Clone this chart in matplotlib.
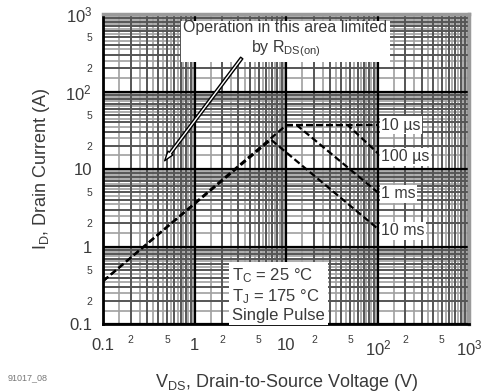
import numpy as np
import matplotlib
matplotlib.use('Agg')
import matplotlib.pyplot as plt
from matplotlib.ticker import LogLocator, FixedLocator, FuncFormatter

plt.rcParams['font.family'] = ['Liberation Sans', 'DejaVu Sans']
plt.rcParams['mathtext.fontset'] = 'custom'
plt.rcParams['mathtext.rm'] = 'Liberation Sans'
plt.rcParams['mathtext.it'] = 'Liberation Sans'

# 曲线数据 (V_DS [V], I_D [A])
rds_v = [0.1, 10]
rds_i = [0.36, 37]
us10_v = [10, 100]
us10_i = [37, 37]
us100_v = [10, 47, 100]
us100_i = [37, 37, 16]
ms1_v = [10, 13, 100]
ms1_i = [37, 37, 5]
ms10_v = [0.1, 6.8, 100]
ms10_i = [0.36, 24, 1.7]

curve_labels = ['10 µs', '100 µs', '1 ms', '10 ms']
label_i = [37, 14.5, 4.8, 1.6]

major_ticks = [0.1, 1, 10, 100, 1000]
major_labels = ['0.1', '1', '10', '$10^2$', '$10^3$']

txt_color = '#3a3a3a'

fig = plt.figure(figsize=(4.82, 3.92), dpi=100)
ax = fig.add_axes([0.214, 0.173, 0.76, 0.791])
ax.set_xscale('log')
ax.set_yscale('log')
ax.set_xlim(0.1, 1000)
ax.set_ylim(0.1, 1000)

# 背景网格 (对数纸)
for d in [0.1, 1, 10, 100]:
    for s in [1.5, 2.5, 3.5, 4.5, 5.5, 6.5, 7.5, 8.5, 9.5]:
        ax.axvline(d * s, color='#a0a0a0', lw=1.2, zorder=0)
        ax.axhline(d * s, color='#a0a0a0', lw=1.2, zorder=0)
    for s in range(2, 10):
        ax.axvline(d * s, color='#555555', lw=1.4, zorder=0.5)
        ax.axhline(d * s, color='#555555', lw=1.4, zorder=0.5)
for d in major_ticks:
    ax.axvline(d, color='black', lw=1.6, zorder=1)
    ax.axhline(d, color='black', lw=1.6, zorder=1)

# 曲线
dash = (0, (3, 1.5))
for v, i in [(rds_v, rds_i), (us10_v, us10_i), (us100_v, us100_i),
             (ms1_v, ms1_i), (ms10_v, ms10_i)]:
    ax.plot(v, i, color='black', lw=1.6, linestyle=dash, zorder=3)

for lab, yi in zip(curve_labels, label_i):
    ax.text(108, yi, lab, fontsize=11.5, ha='left', va='center', color=txt_color,
            bbox=dict(facecolor='white', edgecolor='none', pad=1), zorder=4)

# 注释
ax.text(9.8, 470, 'Operation in this area limited\nby $R_{DS(on)}$', fontsize=11.5,
        ha='center', va='center', multialignment='center', color=txt_color,
        linespacing=1.3,
        bbox=dict(facecolor='white', edgecolor='none', pad=2), zorder=4)
arrow_tail = [3.4, 290]
arrow_head = [0.45, 12]
ax.annotate('', xy=arrow_head, xytext=arrow_tail,
            arrowprops=dict(arrowstyle='simple,head_width=0.45,head_length=0.7,tail_width=0.2',
                            fc='white', ec='black', lw=1.0), zorder=5)

ax.text(0.352, 0.005, '$T_C$ = 25 °C\n$T_J$ = 175 °C\nSingle Pulse', transform=ax.transAxes,
        fontsize=12, ha='left', va='bottom', color=txt_color, linespacing=1.15,
        bbox=dict(facecolor='white', edgecolor='none', pad=2), zorder=4)

# 刻度
def minor_fmt(v, pos):
    m = v / 10 ** np.floor(np.log10(v) + 1e-9)
    if abs(m - 2) < 0.01:
        return '2'
    if abs(m - 5) < 0.01:
        return '5'
    return ''

for axis in [ax.xaxis, ax.yaxis]:
    axis.set_major_locator(FixedLocator(major_ticks))
    axis.set_minor_locator(LogLocator(base=10, subs=[2, 5], numticks=20))
    axis.set_minor_formatter(FuncFormatter(minor_fmt))
ax.set_xticklabels(major_labels)
ax.set_yticklabels(major_labels)
ax.tick_params(which='both', length=0, colors=txt_color)
ax.tick_params(which='major', labelsize=12)
ax.tick_params(which='minor', labelsize=7.5)
ax.tick_params(axis='x', which='major', pad=10)
ax.tick_params(axis='x', which='minor', pad=8)
ax.tick_params(axis='y', which='both', pad=8)

for s in ['left', 'bottom']:
    ax.spines[s].set_color('black')
    ax.spines[s].set_linewidth(2)
for s in ['top', 'right']:
    ax.spines[s].set_color('#9a9a9a')
    ax.spines[s].set_linewidth(2.5)

ax.set_xlabel('$V_{DS}$, Drain-to-Source Voltage (V)', fontsize=13, color=txt_color, labelpad=10)
ax.set_ylabel('$I_D$, Drain Current (A)', fontsize=13, color=txt_color, labelpad=10)
fig.text(0.015, 0.03, '91017_08', fontsize=6.5, color='#777777')

fig.savefig('out.png', dpi=100)
